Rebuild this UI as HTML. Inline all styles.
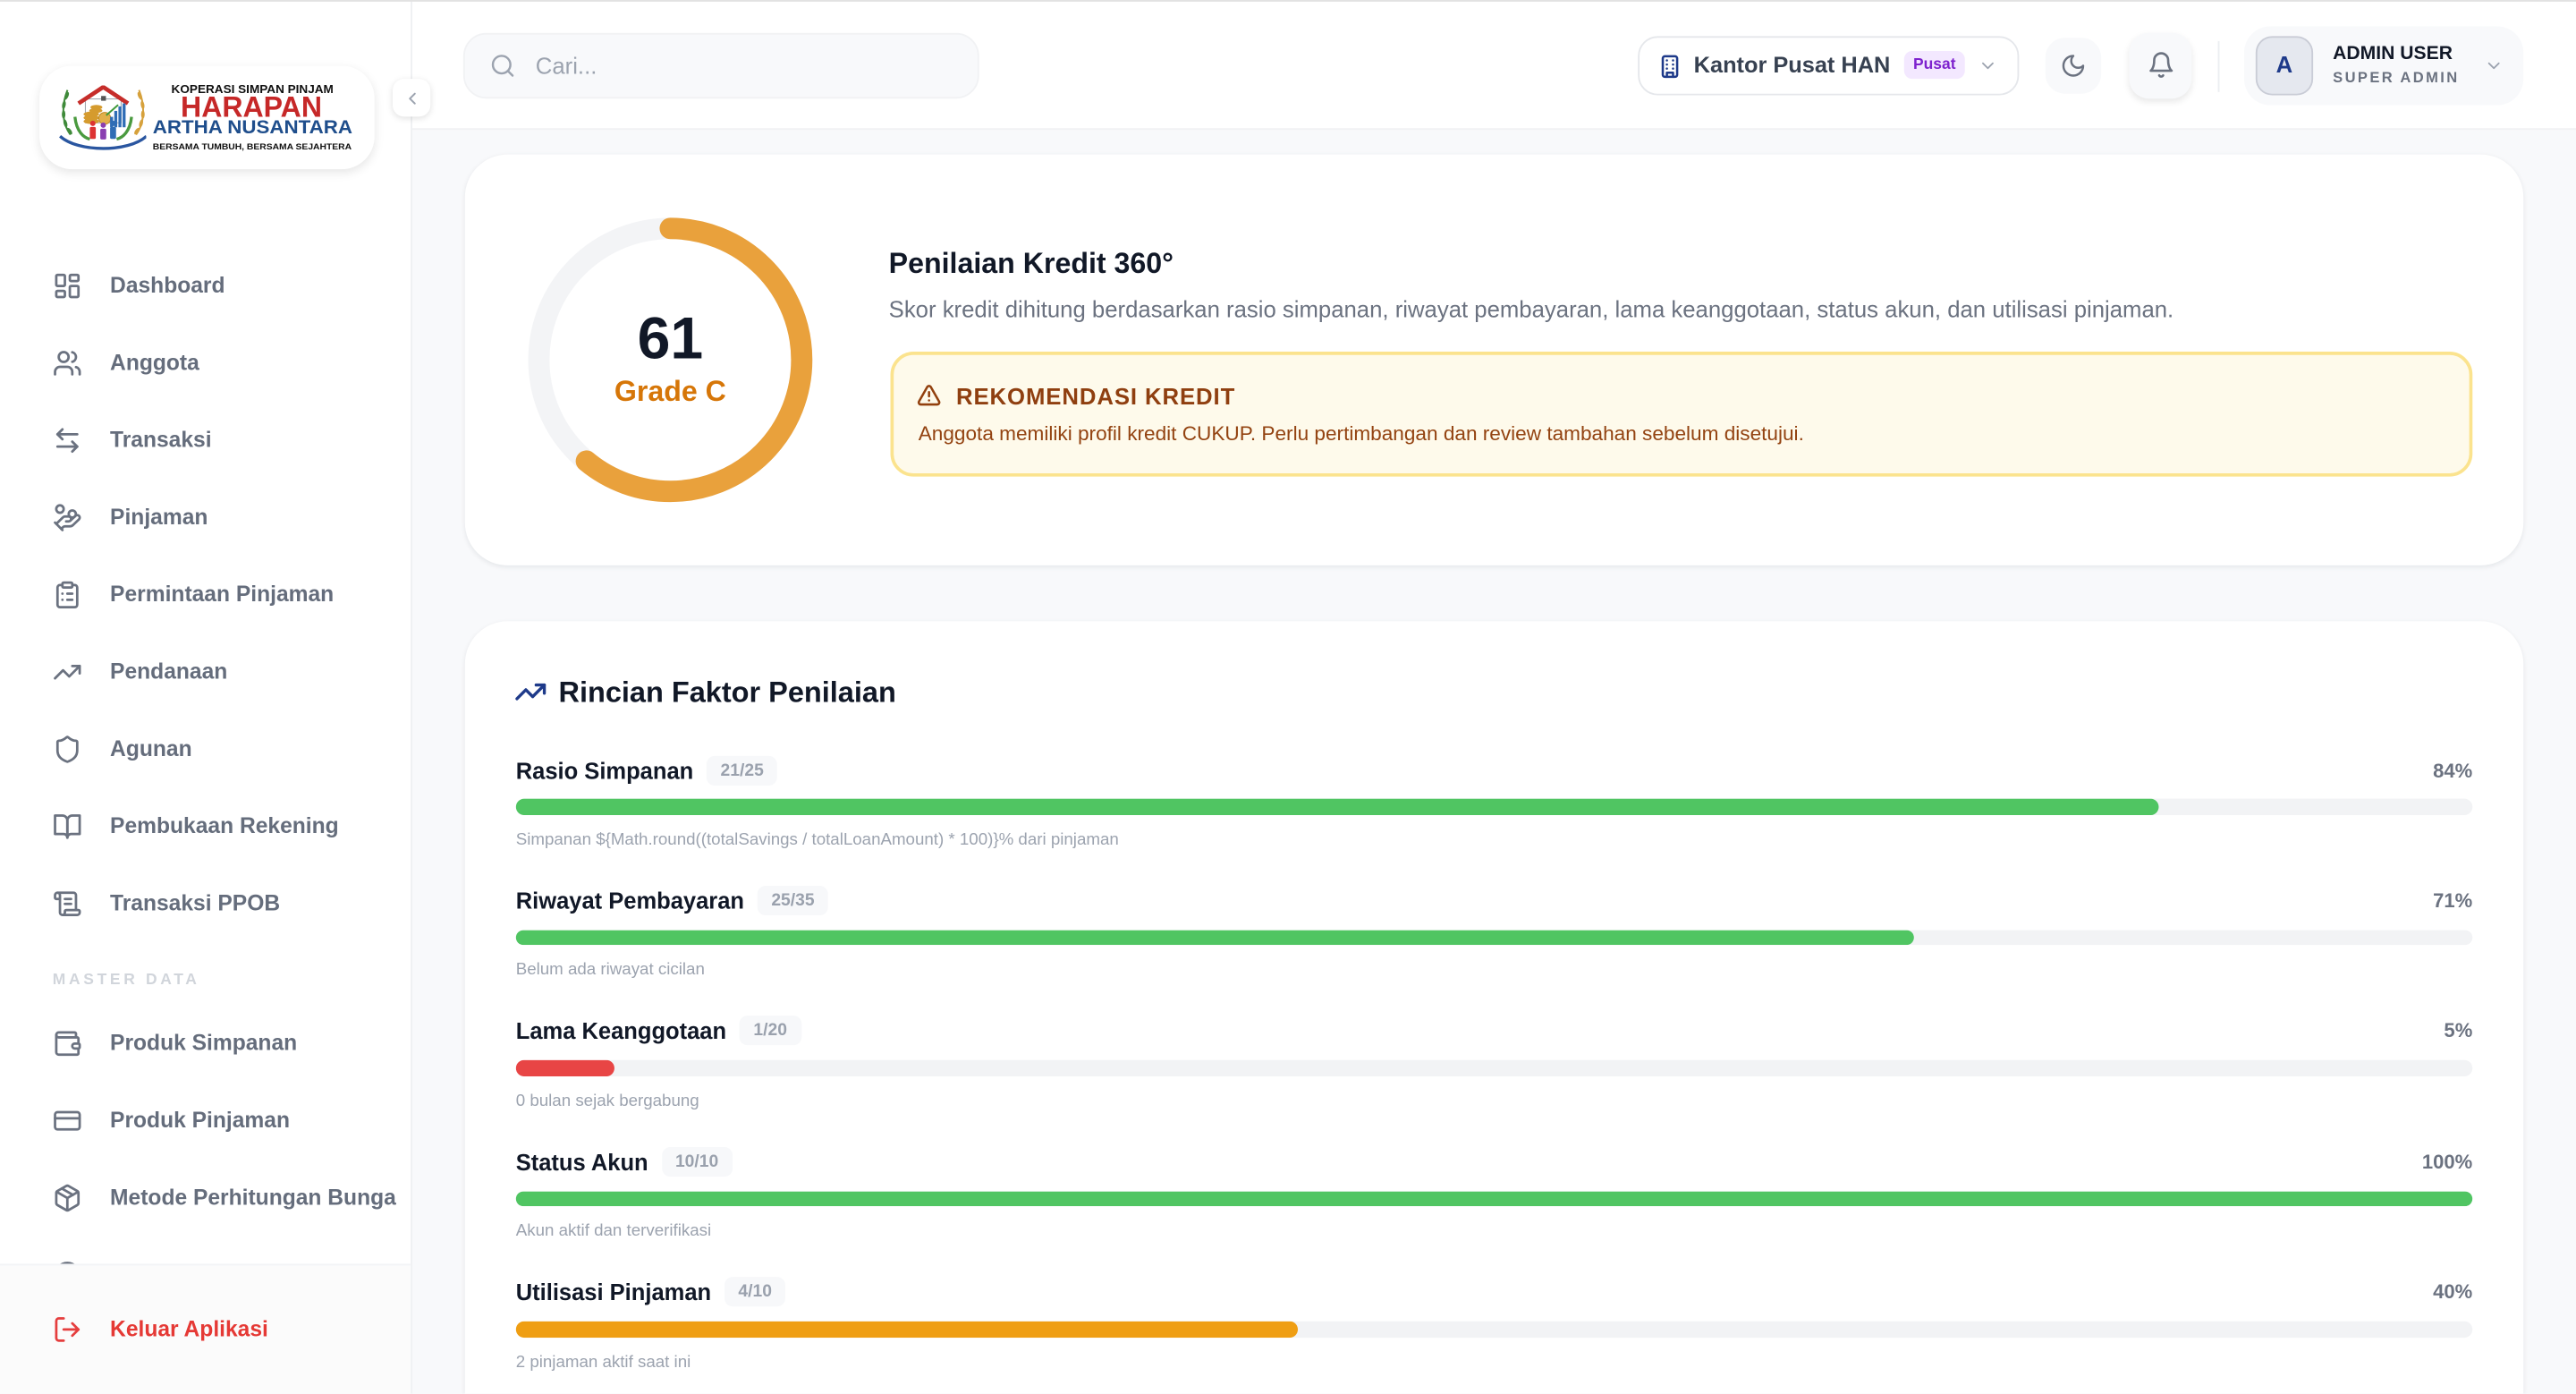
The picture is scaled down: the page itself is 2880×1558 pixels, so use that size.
<!DOCTYPE html>
<html><head><meta charset="utf-8">
<style>
html,body{margin:0;padding:0;width:2880px;height:1558px;overflow:hidden;background:#f8f9fb;}
#s{position:absolute;left:0;top:0;width:1568px;height:848px;transform:scale(1.8367347);transform-origin:0 0;font-family:"Liberation Sans",Arial,sans-serif;background:#f8f9fb;overflow:hidden;}
.a{position:absolute;}
.ic{fill:none;stroke-linecap:round;stroke-linejoin:round;}
.nav{position:absolute;left:0;width:250px;height:20px;}
.nav svg{position:absolute;left:32px;top:1px;width:18px;height:18px;fill:none;stroke:#6b7280;stroke-width:2;stroke-linecap:round;stroke-linejoin:round;}
.nav span{position:absolute;left:67px;top:0;line-height:20px;font-size:13.4px;font-weight:bold;color:#656d7c;white-space:nowrap;}
.card{position:absolute;background:#fff;border-radius:26px;box-shadow:0 1px 3px rgba(16,24,40,0.08);}
.row{position:absolute;left:314px;width:1191px;height:60px;}
.lbl{position:absolute;left:0;top:0;height:18px;display:flex;align-items:center;font-size:13.9px;font-weight:bold;color:#111827;white-space:nowrap;}
.bdg{margin-left:8px;height:18px;line-height:18px;padding:0 8.5px;border-radius:5px;background:#f7f8fa;font-size:10.5px;color:#9aa1ad;font-weight:bold;}
.pct{position:absolute;right:0;top:0;line-height:18px;font-size:12px;font-weight:bold;color:#6b7280;}
.bar{position:absolute;left:0;top:26.8px;width:1191px;height:9.6px;border-radius:5px;background:#f2f3f5;overflow:hidden;}
.bar div{height:100%;border-radius:5px;}
.sub{position:absolute;left:0;top:46.5px;line-height:12px;font-size:10.2px;color:#9ca3af;white-space:nowrap;}
</style></head>
<body>
<div id="s">
  <!-- sidebar -->
  <div class="a" style="left:0;top:0;width:250px;height:848px;background:#fff;border-right:1px solid #eef0f2;box-sizing:content-box;"></div>

  <!-- logo card -->
  <div class="a" style="left:23.5px;top:40px;width:204px;height:63px;border-radius:20px;background:#fff;box-shadow:0 2px 6px rgba(0,0,0,0.10);"></div>
  <svg class="a" style="left:35.7px;top:51.7px" width="53.7" height="40" viewBox="197 285 296 220">
    <path d="M225 300 C205 350 205 410 235 450" fill="none" stroke="#3f8a3a" stroke-width="6"/>
    <g fill="#3f8a3a"><ellipse cx="222" cy="320" rx="6" ry="14" transform="rotate(25 222 320)"/><ellipse cx="213" cy="350" rx="6" ry="14" transform="rotate(10 213 350)"/><ellipse cx="212" cy="382" rx="6" ry="14"/><ellipse cx="218" cy="412" rx="6" ry="14" transform="rotate(-15 218 412)"/><ellipse cx="232" cy="438" rx="6" ry="13" transform="rotate(-35 232 438)"/></g>
    <path d="M465 300 C485 350 485 410 455 450" fill="none" stroke="#d6a13c" stroke-width="6"/>
    <g fill="#d6a13c"><ellipse cx="468" cy="320" rx="6" ry="14" transform="rotate(-25 468 320)"/><ellipse cx="477" cy="350" rx="6" ry="14" transform="rotate(-10 477 350)"/><ellipse cx="478" cy="382" rx="6" ry="14"/><ellipse cx="472" cy="412" rx="6" ry="14" transform="rotate(15 472 412)"/><ellipse cx="458" cy="438" rx="6" ry="13" transform="rotate(35 458 438)"/></g>
    <rect x="285" y="330" width="120" height="80" fill="#fff" stroke="#9aa0a8" stroke-width="3"/>
    <path d="M262 345 L345 290 L428 345" fill="none" stroke="#c62d2a" stroke-width="14" stroke-linejoin="round"/>
    <rect x="338" y="320" width="16" height="16" fill="#555"/>
    <g fill="#d59b2e"><ellipse cx="305" cy="405" rx="26" ry="9"/><ellipse cx="305" cy="393" rx="26" ry="9"/><ellipse cx="305" cy="381" rx="26" ry="9"/><ellipse cx="320" cy="369" rx="22" ry="8"/><ellipse cx="322" cy="358" rx="20" ry="8"/></g>
    <circle cx="350" cy="395" r="20" fill="#e2b04a" stroke="#c08a25" stroke-width="3"/>
    <g fill="#2f6db5"><rect x="368" y="390" width="10" height="35"/><rect x="382" y="370" width="10" height="55"/><rect x="396" y="355" width="10" height="70"/><rect x="410" y="345" width="10" height="80"/></g>
    <path d="M355 385 L395 350" stroke="#3f9a3a" stroke-width="6"/>
    <g><circle cx="310" cy="412" r="9" fill="#d33"/><rect x="300" y="424" width="20" height="40" rx="5" fill="#d33"/><circle cx="345" cy="418" r="9" fill="#8a3fb0"/><rect x="335" y="430" width="20" height="36" rx="5" fill="#8a3fb0"/><circle cx="378" cy="412" r="9" fill="#2f6db5"/><rect x="368" y="424" width="20" height="40" rx="5" fill="#2f6db5"/></g>
    <path d="M250 390 C255 440 280 460 300 465" fill="none" stroke="#4a9a3f" stroke-width="10"/>
    <path d="M440 390 C435 440 410 460 390 465" fill="none" stroke="#4a9a3f" stroke-width="10"/>
    <path d="M200 455 C260 510 430 510 490 455" fill="none" stroke="#2a56a0" stroke-width="10"/>
  </svg>
  <svg class="a" style="left:0;top:0" width="250" height="110">
    <text x="104.3" y="56.5" font-family="Liberation Sans, Arial, sans-serif" font-weight="bold" font-size="6.8" fill="#111" textLength="98.7" lengthAdjust="spacingAndGlyphs">KOPERASI SIMPAN PINJAM</text>
    <text x="110" y="71" font-family="Liberation Sans, Arial, sans-serif" font-weight="bold" font-size="17.5" fill="#c62828" textLength="86" lengthAdjust="spacingAndGlyphs">HARAPAN</text>
    <text x="93" y="81" font-family="Liberation Sans, Arial, sans-serif" font-weight="bold" font-size="11.8" fill="#1f4e8c" textLength="121.5" lengthAdjust="spacingAndGlyphs">ARTHA NUSANTARA</text>
    <text x="93" y="90.8" font-family="Liberation Sans, Arial, sans-serif" font-weight="bold" font-size="5" fill="#111" textLength="121" lengthAdjust="spacingAndGlyphs">BERSAMA TUMBUH, BERSAMA SEJAHTERA</text>
  </svg>

  <!-- nav -->
  <div class="nav" style="top:164px"><svg viewBox="0 0 24 24"><rect x="3" y="3" width="7" height="9" rx="1"/><rect x="14" y="3" width="7" height="5" rx="1"/><rect x="14" y="12" width="7" height="9" rx="1"/><rect x="3" y="16" width="7" height="5" rx="1"/></svg><span>Dashboard</span></div>
  <div class="nav" style="top:211px"><svg viewBox="0 0 24 24"><path d="M16 21v-2a4 4 0 0 0-4-4H6a4 4 0 0 0-4 4v2"/><circle cx="9" cy="7" r="4"/><path d="M22 21v-2a4 4 0 0 0-3-3.87"/><path d="M16 3.13a4 4 0 0 1 0 7.75"/></svg><span>Anggota</span></div>
  <div class="nav" style="top:258px"><svg viewBox="0 0 24 24"><path d="M8 3 4 7l4 4"/><path d="M4 7h16"/><path d="m16 21 4-4-4-4"/><path d="M20 17H4"/></svg><span>Transaksi</span></div>
  <div class="nav" style="top:305px"><svg viewBox="0 0 24 24"><path d="M11 15h2a2 2 0 1 0 0-4h-3c-.6 0-1.1.2-1.4.6L3 17"/><path d="m7 21 1.6-1.4c.3-.4.8-.6 1.4-.6h4c1.1 0 2.1-.4 2.8-1.2l4.6-4.4a2 2 0 0 0-2.750-2.910l-4.2 3.9"/><path d="m2 16 6 6"/><circle cx="16" cy="9" r="2.9"/><circle cx="6" cy="5" r="3"/></svg><span>Pinjaman</span></div>
  <div class="nav" style="top:352px"><svg viewBox="0 0 24 24"><rect x="8" y="2" width="8" height="4" rx="1"/><path d="M16 4h2a2 2 0 0 1 2 2v14a2 2 0 0 1-2 2H6a2 2 0 0 1-2-2V6a2 2 0 0 1 2-2h2"/><path d="M12 11h4"/><path d="M12 16h4"/><path d="M8 11h.01"/><path d="M8 16h.01"/></svg><span>Permintaan Pinjaman</span></div>
  <div class="nav" style="top:399px"><svg viewBox="0 0 24 24"><polyline points="22 7 13.5 15.5 8.5 10.5 2 17"/><polyline points="16 7 22 7 22 13"/></svg><span>Pendanaan</span></div>
  <div class="nav" style="top:446px"><svg viewBox="0 0 24 24"><path d="M20 13c0 5-3.5 7.5-7.66 8.95a1 1 0 0 1-.67-.01C7.5 20.5 4 18 4 13V6a1 1 0 0 1 1-1c2 0 4.5-1.2 6.24-2.72a1.17 1.17 0 0 1 1.52 0C14.51 3.81 17 5 19 5a1 1 0 0 1 1 1z"/></svg><span>Agunan</span></div>
  <div class="nav" style="top:493px"><svg viewBox="0 0 24 24"><path d="M2 3h6a4 4 0 0 1 4 4v14a3 3 0 0 0-3-3H2z"/><path d="M22 3h-6a4 4 0 0 0-4 4v14a3 3 0 0 1 3-3h7z"/></svg><span>Pembukaan Rekening</span></div>
  <div class="nav" style="top:540px"><svg viewBox="0 0 24 24"><path d="M15 12h-5"/><path d="M15 8h-5"/><path d="M19 17V5a2 2 0 0 0-2-2H4"/><path d="M8 21h12a2 2 0 0 0 2-2v-1a1 1 0 0 0-1-1H11a1 1 0 0 0-1 1v1a2 2 0 1 1-4 0V5a2 2 0 1 0-4 0v2a1 1 0 0 0 1 1h3"/></svg><span>Transaksi PPOB</span></div>
  <div class="a" style="left:32px;top:590.5px;line-height:12px;font-size:9.5px;font-weight:bold;letter-spacing:2px;color:#d1d5db;white-space:nowrap;">MASTER DATA</div>
  <div class="nav" style="top:625px"><svg viewBox="0 0 24 24"><path d="M19 7V4a1 1 0 0 0-1-1H5a2 2 0 0 0 0 4h15a1 1 0 0 1 1 1v4h-3a2 2 0 0 0 0 4h3a1 1 0 0 0 1-1v-2a1 1 0 0 0-1-1"/><path d="M3 5v14a2 2 0 0 0 2 2h15a1 1 0 0 0 1-1v-4"/></svg><span>Produk Simpanan</span></div>
  <div class="nav" style="top:672px"><svg viewBox="0 0 24 24"><rect x="2" y="5" width="20" height="14" rx="2"/><line x1="2" y1="10" x2="22" y2="10"/></svg><span>Produk Pinjaman</span></div>
  <div class="nav" style="top:719px"><svg viewBox="0 0 24 24"><path d="M11 21.73a2 2 0 0 0 2 0l7-4A2 2 0 0 0 21 16V8a2 2 0 0 0-1-1.73l-7-4a2 2 0 0 0-2 0l-7 4A2 2 0 0 0 3 8v8a2 2 0 0 0 1 1.73z"/><path d="M12 22V12"/><path d="m3.3 7 8.7 5 8.7-5"/><path d="m7.5 4.27 9 5.15"/></svg><span>Metode Perhitungan Bunga</span></div>
  <div class="nav" style="top:766px"><svg viewBox="0 0 24 24"><circle cx="12" cy="12" r="10"/></svg></div>

  <div class="a" style="left:0;top:769px;width:250px;height:79px;background:#fbfbfb;border-top:1px solid #f3f4f6;box-sizing:border-box;"></div>
  <div class="nav" style="top:798.5px"><svg viewBox="0 0 24 24" style="stroke:#e53e3e"><path d="M9 21H5a2 2 0 0 1-2-2V5a2 2 0 0 1 2-2h4"/><polyline points="16 17 21 12 16 7"/><line x1="21" y1="12" x2="9" y2="12"/></svg><span style="color:#e53935">Keluar Aplikasi</span></div>

  <!-- header -->
  <div class="a" style="left:251px;top:0;width:1317px;height:79px;background:#fff;border-bottom:1px solid #f0f1f3;box-sizing:border-box;"></div>
  <div class="a" style="left:0;top:0;width:1568px;height:1.2px;background:#e2e2e2;"></div>

  <!-- collapse button -->
  <div class="a" style="left:239px;top:48px;width:23px;height:23px;border-radius:7px;background:#fff;box-shadow:0 1px 4px rgba(0,0,0,0.13);"></div>
  <svg class="a ic" style="left:244.5px;top:53.5px" width="12" height="12" viewBox="0 0 24 24" stroke="#9ca3af" stroke-width="2.2"><path d="m15 18-6-6 6-6"/></svg>

  <!-- search -->
  <div class="a" style="left:282px;top:20px;width:314px;height:40px;border-radius:14px;background:#f8f9fb;border:1px solid #f1f2f4;box-sizing:border-box;"></div>
  <svg class="a ic" style="left:298px;top:32px" width="16" height="16" viewBox="0 0 24 24" stroke="#9ca3af" stroke-width="2"><circle cx="11" cy="11" r="8"/><path d="m21 21-4.3-4.3"/></svg>
  <div class="a" style="left:326px;top:30px;line-height:20px;font-size:14px;color:#9ca3af;">Cari...</div>

  <!-- branch -->
  <div class="a" style="left:997px;top:22px;width:232px;height:36px;border-radius:12px;background:#fff;border:1px solid #e5e7eb;box-sizing:border-box;"></div>
  <svg class="a ic" style="left:1008.5px;top:32.5px" width="15" height="15" viewBox="0 0 24 24" stroke="#1e3a8a" stroke-width="2.2"><rect x="5" y="2" width="14" height="20" rx="2"/><path d="M9 22v-4h6v4"/><path d="M9 6h.01M15 6h.01M9 10h.01M15 10h.01M9 14h.01M15 14h.01"/></svg>
  <div class="a" style="left:1031px;top:30px;line-height:20px;font-size:13.8px;font-weight:bold;color:#374151;white-space:nowrap;">Kantor Pusat HAN</div>
  <div class="a" style="left:1159px;top:31.4px;width:37px;height:17px;border-radius:5px;background:#f3e8ff;color:#7e22ce;font-size:9.5px;font-weight:bold;line-height:17px;text-align:center;">Pusat</div>
  <svg class="a ic" style="left:1204px;top:34px" width="12" height="12" viewBox="0 0 24 24" stroke="#9ca3af" stroke-width="2"><path d="m6 9 6 6 6-6"/></svg>

  <!-- moon -->
  <div class="a" style="left:1245px;top:23px;width:34px;height:34px;border-radius:12px;background:#f8f9fb;"></div>
  <svg class="a ic" style="left:1254px;top:32px" width="16" height="16" viewBox="0 0 24 24" stroke="#6b7280" stroke-width="2"><path d="M12 3a6 6 0 0 0 9 9 9 9 0 1 1-9-9Z"/></svg>
  <!-- bell -->
  <div class="a" style="left:1296px;top:19.5px;width:38px;height:40px;border-radius:12px;background:#f8f9fb;box-shadow:0 2px 4px rgba(0,0,0,0.09);"></div>
  <svg class="a ic" style="left:1306.5px;top:30.5px" width="17" height="17" viewBox="0 0 24 24" stroke="#6b7280" stroke-width="2"><path d="M6 8a6 6 0 0 1 12 0c0 7 3 9 3 9H3s3-2 3-9"/><path d="M10.3 21a1.94 1.94 0 0 0 3.4 0"/></svg>
  <div class="a" style="left:1350px;top:24.5px;width:1px;height:31px;background:#eceef1;"></div>

  <!-- user -->
  <div class="a" style="left:1366px;top:16px;width:170px;height:48px;border-radius:16px;background:#f8f9fb;"></div>
  <div class="a" style="left:1373px;top:22px;width:35px;height:35.5px;border-radius:10px;background:#e5e8ef;border:1px solid #c9ccd6;box-sizing:border-box;color:#1e3a8a;font-size:14px;font-weight:bold;line-height:33.5px;text-align:center;">A</div>
  <div class="a" style="left:1420px;top:26px;line-height:14px;font-size:11.5px;font-weight:bold;color:#111827;white-space:nowrap;">ADMIN USER</div>
  <div class="a" style="left:1420px;top:41px;line-height:12px;font-size:9px;font-weight:bold;letter-spacing:1.3px;color:#6b7280;white-space:nowrap;">SUPER ADMIN</div>
  <svg class="a ic" style="left:1512px;top:34px" width="12" height="12" viewBox="0 0 24 24" stroke="#9ca3af" stroke-width="2"><path d="m6 9 6 6 6-6"/></svg>

  <!-- card 1 -->
  <div class="card" style="left:283px;top:94px;width:1253px;height:250px;"></div>
  <svg class="a" style="left:318.3px;top:128.6px" width="180" height="180">
    <circle cx="90" cy="90" r="80" fill="none" stroke="#f3f4f6" stroke-width="13"/>
    <circle cx="90" cy="90" r="80" fill="none" stroke="#e9a13c" stroke-width="13" stroke-linecap="round" stroke-dasharray="306.6 600" transform="rotate(-90 90 90)"/>
  </svg>
  <div class="a" style="left:358px;top:185.5px;width:100px;text-align:center;line-height:40px;font-size:36px;font-weight:bold;color:#111827;">61</div>
  <div class="a" style="left:348px;top:227.5px;width:120px;text-align:center;line-height:20px;font-size:17.5px;font-weight:bold;color:#d67608;">Grade C</div>

  <div class="a" style="left:541px;top:150px;line-height:20px;font-size:17.5px;font-weight:bold;color:#111827;white-space:nowrap;">Penilaian Kredit 360°</div>
  <div class="a" style="left:541px;top:178.5px;line-height:18px;font-size:14px;color:#6b7280;white-space:nowrap;">Skor kredit dihitung berdasarkan rasio simpanan, riwayat pembayaran, lama keanggotaan, status akun, dan utilisasi pinjaman.</div>

  <div class="a" style="left:542px;top:214px;width:963px;height:76px;border-radius:14px;background:#fefaeb;border:2px solid #fbe38e;box-sizing:border-box;"></div>
  <svg class="a ic" style="left:558px;top:233px" width="15" height="15" viewBox="0 0 24 24" stroke="#92400e" stroke-width="2.2"><path d="m21.73 18-8-14a2 2 0 0 0-3.48 0l-8 14A2 2 0 0 0 4 21h16a2 2 0 0 0 1.73-3"/><path d="M12 9v4"/><path d="M12 17h.01"/></svg>
  <div class="a" style="left:582px;top:232px;line-height:18px;font-size:14px;font-weight:bold;letter-spacing:0.5px;color:#8f3f10;white-space:nowrap;">REKOMENDASI KREDIT</div>
  <div class="a" style="left:559px;top:255.5px;line-height:16px;font-size:12.3px;color:#934311;white-space:nowrap;">Anggota memiliki profil kredit CUKUP. Perlu pertimbangan dan review tambahan sebelum disetujui.</div>

  <!-- card 2 -->
  <div class="card" style="left:283px;top:378px;width:1253px;height:470px;border-radius:26px 26px 0 0;"></div>
  <svg class="a ic" style="left:313px;top:411px" width="20" height="20" viewBox="0 0 24 24" stroke="#1e3a8a" stroke-width="2.2"><polyline points="22 7 13.5 15.5 8.5 10.5 2 17"/><polyline points="16 7 22 7 22 13"/></svg>
  <div class="a" style="left:340px;top:411.3px;line-height:20px;font-size:17.7px;font-weight:bold;color:#111827;white-space:nowrap;">Rincian Faktor Penilaian</div>

  <div class="row" style="top:459.5px">
    <div class="lbl">Rasio Simpanan<span class="bdg">21/25</span></div>
    <div class="pct">84%</div>
    <div class="bar"><div style="width:84%;background:#50c562"></div></div>
    <div class="sub">Simpanan ${Math.round((totalSavings / totalLoanAmount) * 100)}% dari pinjaman</div>
  </div>
  <div class="row" style="top:538.95px">
    <div class="lbl">Riwayat Pembayaran<span class="bdg">25/35</span></div>
    <div class="pct">71%</div>
    <div class="bar"><div style="width:71.43%;background:#50c562"></div></div>
    <div class="sub">Belum ada riwayat cicilan</div>
  </div>
  <div class="row" style="top:618.4px">
    <div class="lbl">Lama Keanggotaan<span class="bdg">1/20</span></div>
    <div class="pct">5%</div>
    <div class="bar"><div style="width:5%;background:#e84545"></div></div>
    <div class="sub">0 bulan sejak bergabung</div>
  </div>
  <div class="row" style="top:697.85px">
    <div class="lbl">Status Akun<span class="bdg">10/10</span></div>
    <div class="pct">100%</div>
    <div class="bar"><div style="width:100%;background:#50c562"></div></div>
    <div class="sub">Akun aktif dan terverifikasi</div>
  </div>
  <div class="row" style="top:777.3px;height:58px">
    <div class="lbl">Utilisasi Pinjaman<span class="bdg">4/10</span></div>
    <div class="pct">40%</div>
    <div class="bar"><div style="width:40%;background:#ef9e13"></div></div>
    <div class="sub">2 pinjaman aktif saat ini</div>
  </div>
</div>
</body></html>
